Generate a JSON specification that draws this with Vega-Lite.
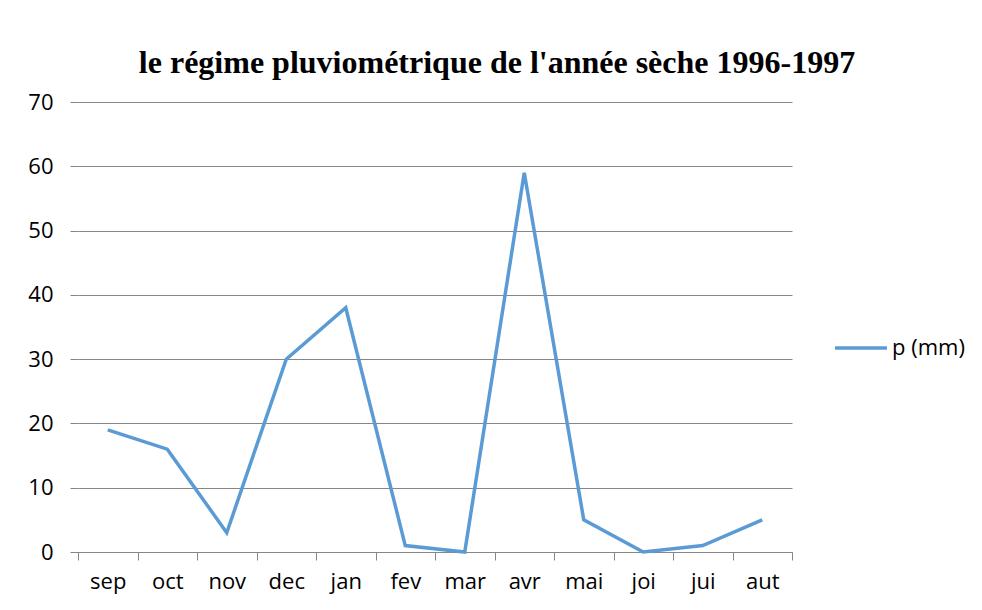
{
  "$schema": "https://vega.github.io/schema/vega-lite/v6.json",
  "width": 714,
  "height": 450,
  "autosize": {"type": "none"},
  "padding": {"left": 78, "top": 102, "right": 190, "bottom": 58},
  "background": "white",
  "title": {
    "text": "le régime pluviométrique de l'année sèche 1996-1997",
    "font": "Liberation Serif",
    "fontSize": 32,
    "fontWeight": "bold",
    "color": "#000000",
    "anchor": "middle",
    "dx": 62,
    "offset": 11
  },
  "config": {
    "view": {"stroke": null},
    "axis": {
      "labelFont": "Open Sans",
      "labelFontSize": 22,
      "labelColor": "#000000",
      "domainColor": "#868686",
      "tickColor": "#868686",
      "gridColor": "#868686",
      "tickSize": 8,
      "title": null
    },
    "legend": {"labelFont": "Open Sans", "labelFontSize": 22, "labelColor": "#000000"}
  },
  "data": {
    "values": [
      {"mois": "sep", "p": 19, "serie": "p (mm)"},
      {"mois": "oct", "p": 16, "serie": "p (mm)"},
      {"mois": "nov", "p": 3, "serie": "p (mm)"},
      {"mois": "dec", "p": 30, "serie": "p (mm)"},
      {"mois": "jan", "p": 38, "serie": "p (mm)"},
      {"mois": "fev", "p": 1, "serie": "p (mm)"},
      {"mois": "mar", "p": 0, "serie": "p (mm)"},
      {"mois": "avr", "p": 59, "serie": "p (mm)"},
      {"mois": "mai", "p": 5, "serie": "p (mm)"},
      {"mois": "joi", "p": 0, "serie": "p (mm)"},
      {"mois": "jui", "p": 1, "serie": "p (mm)"},
      {"mois": "aut", "p": 5, "serie": "p (mm)"}
    ]
  },
  "mark": {"type": "line", "strokeWidth": 3.5},
  "encoding": {
    "x": {
      "field": "mois",
      "type": "nominal",
      "sort": null,
      "scale": {"type": "band", "paddingInner": 0, "paddingOuter": 0},
      "axis": {"labelAngle": 0, "tickBand": "extent", "labelPadding": 11, "grid": false}
    },
    "y": {
      "field": "p",
      "type": "quantitative",
      "scale": {"domain": [0, 70], "nice": false},
      "axis": {"values": [0, 10, 20, 30, 40, 50, 60, 70], "domain": false, "grid": true, "labelPadding": 17}
    },
    "color": {
      "field": "serie",
      "type": "nominal",
      "scale": {"range": ["#5B9BD5"]},
      "legend": {
        "title": null,
        "orient": "none",
        "legendX": 755,
        "legendY": 218,
        "symbolType": "stroke",
        "symbolSize": 2704,
        "symbolStrokeWidth": 3.5,
        "labelOffset": 3
      }
    }
  }
}
